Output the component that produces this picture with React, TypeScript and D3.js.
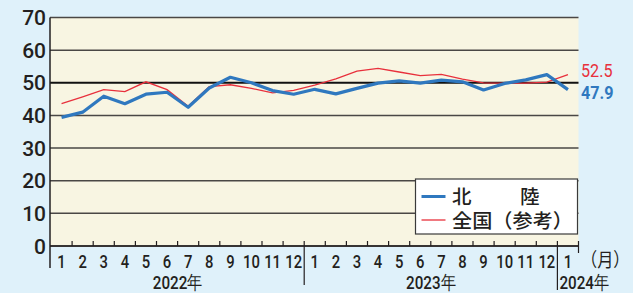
import React from "react";
import * as d3 from "d3";

const months = ["1","2","3","4","5","6","7","8","9","10","11","12","1","2","3","4","5","6","7","8","9","10","11","12","1"];
const hokuriku = [39.4,41.0,45.9,43.6,46.5,47.1,42.5,48.4,51.7,50.0,47.6,46.5,48.0,46.6,48.3,49.9,50.6,49.9,50.8,50.3,47.8,49.8,50.9,52.5,47.9];
const national = [43.6,45.7,47.9,47.3,50.3,47.9,42.8,48.8,49.4,48.3,46.9,47.7,49.3,51.2,53.6,54.4,53.3,52.2,52.6,51.1,50.0,49.9,49.9,50.2,52.5];
const yTicks = [0,10,20,30,40,50,60,70];
const years = [
  { label: "2022年", start: 0, end: 11 },
  { label: "2023年", start: 12, end: 23 },
];
const lastYearLabel = "2024年";
const legendNames = ["北", "陸", "全国（参考）"];

const W = 633, H = 293;
const BLUE = "#2f78bf";
const RED = "#e8303c";
const INK = "#231f20";

export default function App() {
  const x = d3.scaleBand<number>().domain(d3.range(months.length)).range([51, 578.5]);
  const y = d3.scaleLinear().domain([0, 70]).range([246, 17.5]);
  const cx = (i: number) => (x(i) as number) + x.bandwidth() / 2;
  const line = d3.line<number>().x((_, i) => cx(i)).y((d) => y(d));
  const left = 50, right = 578.5, bottom = y(0), top = y(70);
  const narrow = "Roboto, 'Liberation Sans', Arial, sans-serif";
  const cjk = "'Noto Sans CJK JP', 'Noto Sans', sans-serif";
  const boundaries = d3.range(1, months.length + 1).map((i) => (i < months.length ? (x(i) as number) : right));

  return (
    <svg width={W} height={H} style={{ position: "absolute", left: 0, top: 0, display: "block" }}>
      <rect x={0} y={0} width={W} height={H} fill="#dff1fa" />
      <rect x={left} y={top} width={right - left} height={bottom - top} fill="#f8f5e2" />
      {yTicks.map((t) => (
        <line key={t} x1={left} x2={right} y1={y(t)} y2={y(t)}
          stroke={t === 50 ? "#111" : "#4a4745"} strokeWidth={t === 50 ? 2 : 1.5} />
      ))}
      {yTicks.map((t) => (
        <text key={"l" + t} x={46} y={y(t) + 7.5} textAnchor="end" fontSize={21} fontWeight={500}
          fontFamily={narrow} fill={INK}>{t}</text>
      ))}
      {/* axes */}
      <line x1={left} x2={left} y1={top} y2={268} stroke={INK} strokeWidth={1.5} />
      <line x1={left} x2={right} y1={bottom} y2={bottom} stroke={INK} strokeWidth={1.5} />
      {boundaries.map((b, i) => (
        <line key={"t" + i} x1={b} x2={b} y1={bottom - 5} y2={i === months.length - 1 ? 253 : bottom} stroke={INK} strokeWidth={1.2} />
      ))}
      <line x1={x(12) as number} x2={x(12) as number} y1={bottom} y2={285} stroke={INK} strokeWidth={1.2} />
      <line x1={x(24) as number} x2={x(24) as number} y1={bottom} y2={290} stroke={INK} strokeWidth={1.2} />
      {months.map((m, i) => (
        <text key={"m" + i} transform={`translate(${cx(i)},268) scale(0.8,1)`} textAnchor="middle" fontWeight={500}
          fontSize={18.5} fontFamily={narrow} fill={INK}>{m}</text>
      ))}
      {years.map((yr) => (
        <text key={yr.label}
          transform={`translate(${((x(yr.start) as number) + (x(yr.end) as number) + x.bandwidth()) / 2},289) scale(0.8,1)`}
          textAnchor="middle" fontSize={19} fontWeight={500} fontFamily={narrow} fill={INK}>{yr.label}</text>
      ))}
      <text transform={`translate(${(x(24) as number) + 2},289) scale(0.8,1)`} fontSize={19} fontWeight={500} fontFamily={narrow} fill={INK}>{lastYearLabel}</text>
      <text transform={`translate(581,267) scale(0.85,1)`} fontSize={19} fontFamily={cjk} fill={INK}>（月）</text>
      {/* lines */}
      <path d={line(national) || ""} fill="none" stroke={RED} strokeWidth={1.3} />
      <path d={line(hokuriku) || ""} fill="none" stroke={BLUE} strokeWidth={3.2} strokeLinejoin="round" />
      <text transform={`translate(581,${y(national[national.length - 1]) + 2}) scale(0.85,1)`} fontSize={19}
        fontFamily={narrow} fill={RED}>{national[national.length - 1].toFixed(1)}</text>
      <text transform={`translate(581,${y(hokuriku[hokuriku.length - 1]) + 9}) scale(0.85,1)`} fontSize={19}
        fontWeight="bold" fontFamily={narrow} fill={BLUE}>{hokuriku[hokuriku.length - 1].toFixed(1)}</text>
      {/* legend */}
      <rect x={415.5} y={179} width={162} height={55} fill="#fff" stroke="#3a3a3a" strokeWidth={1.2} />
      <line x1={421.5} x2={445.5} y1={196.5} y2={196.5} stroke={BLUE} strokeWidth={3} />
      <line x1={421.5} x2={445.5} y1={220} y2={220} stroke={RED} strokeWidth={1.3} />
      <text x={452} y={203.5} fontSize={19.5} fontWeight={500} fontFamily={cjk} fill={INK}>{legendNames[0]}</text>
      <text x={520} y={203.5} fontSize={19.5} fontWeight={500} fontFamily={cjk} fill={INK}>{legendNames[1]}</text>
      <text x={452} y={228} fontSize={19.5} fontWeight={500} fontFamily={cjk} fill={INK} textLength={121} lengthAdjust="spacingAndGlyphs">{legendNames[2]}</text>
    </svg>
  );
}
